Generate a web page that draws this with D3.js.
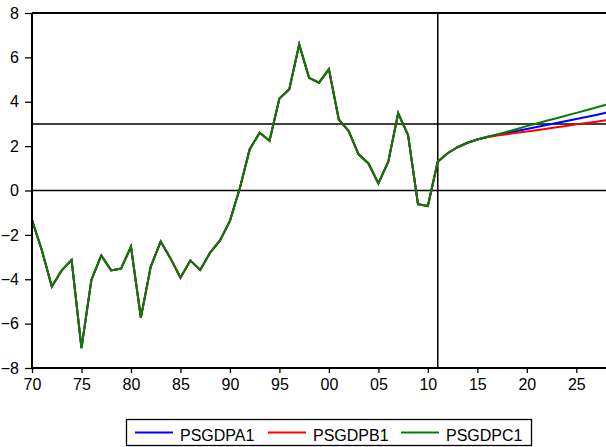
<!DOCTYPE html>
<html><head><meta charset="utf-8">
<script src="https://cdn.jsdelivr.net/npm/d3@7"></script>
<style>body{margin:0;background:#fff}svg{display:block}text{font-family:"Liberation Sans",Arial,sans-serif}</style>
</head><body><svg id="c" width="606" height="447"></svg>
<script>
const histYears = d3.range(1970, 2012);
const histValues = [-1.33,-2.7,-4.33,-3.6,-3.13,-7.1,-4.03,-2.93,-3.6,-3.52,
  -2.53,-5.73,-3.43,-2.3,-3.06,-3.93,-3.16,-3.58,-2.8,-2.25,
  -1.37,0.1,1.86,2.6,2.24,4.15,4.56,6.58,5.08,4.86,
  5.47,3.2,2.68,1.63,1.22,0.32,1.3,3.48,2.5,-0.62,-0.7,1.3];
const fcYears = d3.range(2011, 2029);
const fcA = [1.3,1.68,1.95,2.15,2.3,2.41,2.51,2.59,2.68,2.77,2.86,2.95,3.04,3.13,3.22,3.31,3.40,3.50];
const fcB = [1.3,1.68,1.95,2.15,2.3,2.40,2.48,2.54,2.60,2.66,2.72,2.78,2.85,2.91,2.98,3.04,3.10,3.17];
const fcC = [1.3,1.68,1.95,2.15,2.3,2.42,2.53,2.65,2.77,2.90,3.02,3.14,3.26,3.38,3.50,3.62,3.74,3.87];
const seriesNames = ["PSGDPA1","PSGDPB1","PSGDPC1"];
const seriesColors = ["#0000ff","#ff0000","#008000"];
const xTicks = [1970,1975,1980,1985,1990,1995,2000,2005,2010,2015,2020,2025];
const yTicks = [-8,-6,-4,-2,0,2,4,6,8];
const refLinesY = [0,3];
const refLineX = 2011;

const svg = d3.select("#c");
const x = d3.scaleLinear().domain([1970, 2028]).range([32, 606]);
const y = d3.scaleLinear().domain([-8, 8]).range([368, 13]);

function build(fc){
  const pts = histYears.map((yr,i)=>[yr, histValues[i]]);
  fcYears.forEach((yr,i)=>{ if(i>0) pts.push([yr, fc[i]]); });
  return pts;
}
const series = [fcA, fcB, fcC].map(build);

// reference lines
svg.selectAll("line.ref").data(refLinesY).enter().append("line")
  .attr("x1", 32).attr("x2", 606).attr("y1", d=>y(d)).attr("y2", d=>y(d))
  .attr("stroke","#000").attr("stroke-width",1.5);
svg.append("line").attr("x1", x(refLineX)).attr("x2", x(refLineX))
  .attr("y1", 13).attr("y2", 368).attr("stroke","#000").attr("stroke-width",1.5);
// top border
svg.append("line").attr("x1",32).attr("x2",606).attr("y1",13).attr("y2",13)
  .attr("stroke","#000").attr("stroke-width",2);

const line = d3.line().x(d=>x(d[0])).y(d=>y(d[1]));
series.forEach((s,i)=>{
  svg.append("path").datum(s).attr("d", line).attr("fill","none")
    .attr("stroke", seriesColors[i]).attr("stroke-width",2).attr("stroke-linejoin","miter");
});

// axes
const yAxis = d3.axisLeft(y).tickValues(yTicks).tickSize(7).tickPadding(6).tickFormat(d3.format("d"));
const gy = svg.append("g").attr("transform","translate(32,0)").call(yAxis);
const xAxis = d3.axisBottom(x).tickValues(xTicks).tickSize(5).tickPadding(6)
  .tickFormat(d=>String(d%100).padStart(2,"0"));
const gx = svg.append("g").attr("transform","translate(0,368)").call(xAxis);
[gx, gy].forEach(g=>{
  g.select(".domain").attr("stroke","#000").attr("stroke-width",2);
  g.selectAll(".tick line").attr("stroke","#000").attr("stroke-width",1.3);
  g.selectAll("text").attr("font-size",16).attr("fill","#000")
    .attr("font-family","'Liberation Sans',Arial,sans-serif");
});
gx.select(".domain").attr("d","M32,0H606");
gy.select(".domain").attr("d","M0,13V368");

// legend
const lg = svg.append("g");
lg.append("rect").attr("x",126.5).attr("y",419.5).attr("width",405).attr("height",26)
  .attr("fill","#fff").attr("stroke","#000").attr("stroke-width",1.3);
const lx = [135, 268, 401];
seriesNames.forEach((n,i)=>{
  lg.append("line").attr("x1",lx[i]).attr("x2",lx[i]+38).attr("y1",432.5).attr("y2",432.5)
    .attr("stroke",seriesColors[i]).attr("stroke-width",2);
  lg.append("text").attr("x",lx[i]+45).attr("y",440.5).attr("font-size",16).text(n);
});
</script></body></html>
